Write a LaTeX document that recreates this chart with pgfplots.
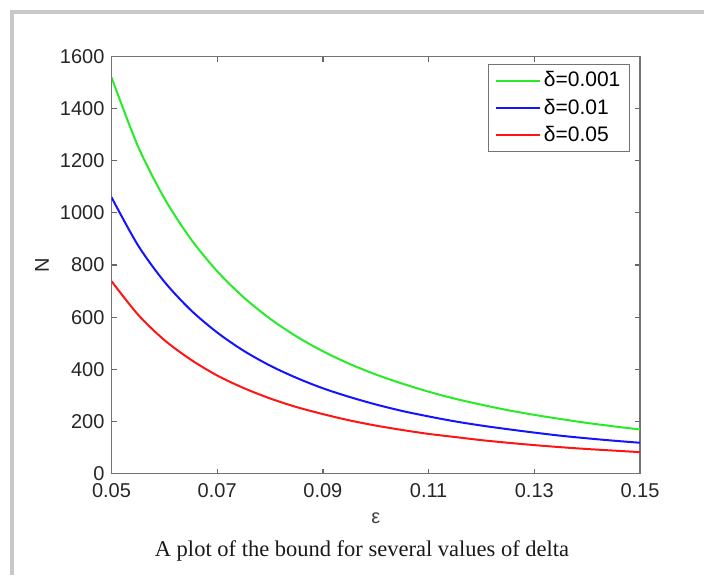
\documentclass[border=0pt]{standalone}
\usepackage{fontspec}
\setmainfont{Liberation Sans}
\newfontfamily\capfont{Liberation Serif}
\usepackage{pgfplots}
\pgfplotsset{compat=1.18}

\definecolor{mgreen}{RGB}{40,235,40}
\definecolor{mblue}{RGB}{20,20,255}
\definecolor{mred}{RGB}{255,20,20}
\definecolor{frame}{RGB}{200,200,200}

% N(eps), one table per delta
\pgfplotstableread{
eps N
0.050 1520
0.055 1256
0.060 1056
0.065 900
0.070 776
0.075 676
0.080 594
0.085 526
0.090 469
0.095 421
0.100 380
0.105 345
0.110 314
0.115 287
0.120 264
0.125 243
0.130 225
0.135 209
0.140 194
0.145 181
0.150 169
}\dA
\pgfplotstableread{
eps N
0.050 1060
0.055 876
0.060 736
0.065 627
0.070 541
0.075 471
0.080 414
0.085 367
0.090 327
0.095 294
0.100 265
0.105 240
0.110 219
0.115 200
0.120 184
0.125 170
0.130 157
0.135 145
0.140 135
0.145 126
0.150 118
}\dB
\pgfplotstableread{
eps N
0.050 738
0.055 610
0.060 512
0.065 437
0.070 376
0.075 328
0.080 288
0.085 255
0.090 228
0.095 204
0.100 184
0.105 167
0.110 152
0.115 140
0.120 128
0.125 118
0.130 109
0.135 101
0.140 94
0.145 88
0.150 82
}\dC

\begin{document}
\begin{tikzpicture}
\useasboundingbox (0,0) rectangle (352pt,287.5pt);
% page frame
\draw[frame, line width=2pt] (6pt,0) -- (6pt,281.5pt) -- (352pt,281.5pt);

\begin{axis}[
    at={(55.75pt,50.75pt)}, anchor=south west,
    scale only axis,
    width=264.25pt, height=208.5pt,
    xmin=0.05, xmax=0.15, ymin=0, ymax=1600,
    xtick={0.05,0.07,0.09,0.11,0.13,0.15},
    xticklabels={0.05,0.07,0.09,0.11,0.13,0.15},
    ytick={0,200,...,1600},
    /pgf/number format/1000 sep={},
    /pgf/number format/assume math mode=true,
    tick align=inside,
    major tick length=2.5pt,
    axis line style={black!55, line width=0.8pt},
    every tick/.style={black!60, line width=0.6pt},
    tick label style={font=\fontsize{10}{12}\selectfont, text=black!85},
    xticklabel style={yshift=-1.5pt},
    xlabel={ε},
    ylabel={N},
    xlabel style={at={(axis description cs:0.5,0)}, anchor=center, yshift=-22.25pt, font=\fontsize{10}{12}\selectfont, text=black!75},
    ylabel style={at={(axis description cs:0,0.5)}, anchor=center, xshift=0pt, yshift=34.75pt, font=\fontsize{10}{12}\selectfont, text=black!85},
    legend style={at={(rel axis cs:1,1)}, anchor=north east, xshift=-5pt, yshift=-3.75pt,
        draw=black!55, line width=0.6pt, font=\fontsize{10.5}{12}\selectfont,
        inner xsep=3pt, inner ysep=2pt, row sep=1.5pt,
        nodes={inner sep=1.5pt}},
    legend cell align=left,
    legend image code/.code={\draw[#1, line width=1.2pt] (0pt,0pt) -- (22pt,0pt);},
]
\addplot[mgreen, line width=1pt, smooth] table[x=eps, y=N] {\dA};
\addlegendentry{δ=0.001}
\addplot[mblue, line width=1pt, smooth] table[x=eps, y=N] {\dB};
\addlegendentry{δ=0.01}
\addplot[mred, line width=1pt, smooth] table[x=eps, y=N] {\dC};
\addlegendentry{δ=0.05}
\end{axis}

\node[font=\capfont\fontsize{11.25}{13}\selectfont, text=black!90] at (181pt,12pt) {A plot of the bound for several values of delta};
\end{tikzpicture}
\end{document}
